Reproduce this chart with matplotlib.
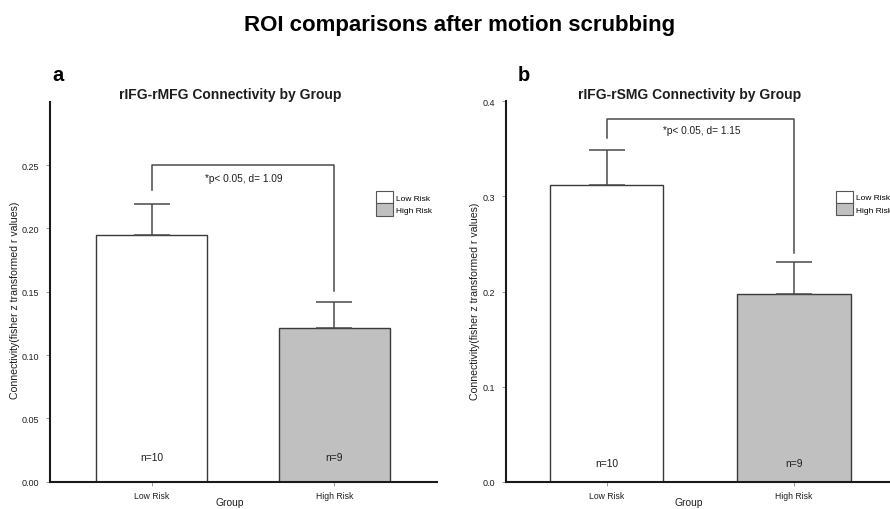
import matplotlib
matplotlib.use("Agg")
import matplotlib.pyplot as plt
from matplotlib.patches import Patch

plt.rcParams['font.family'] = ['Liberation Sans', 'DejaVu Sans']

# ---- data ----
groups = ["Low Risk", "High Risk"]
n_labels = ["n=10", "n=9"]
legend_labels = ["Low Risk", "High Risk"]

mfg_means = [0.1945, 0.1213]
mfg_sem = [0.025, 0.0207]
mfg_bracket = [0.2305, 0.25, 0.25, 0.1504]
mfg_stat = "*p< 0.05, d= 1.09"
mfg_yticks = [0.00, 0.05, 0.10, 0.15, 0.20, 0.25]
mfg_yticklabels = ["0.00", "0.05", "0.10", "0.15", "0.20", "0.25"]

smg_means = [0.3123, 0.1974]
smg_sem = [0.0365, 0.0336]
smg_bracket = [0.361, 0.381, 0.381, 0.2408]
smg_stat = "*p< 0.05, d= 1.15"
smg_yticks = [0.0, 0.1, 0.2, 0.3, 0.4]
smg_yticklabels = ["0.0", "0.1", "0.2", "0.3", "0.4"]

bar_colors = ["#ffffff", "#c0c0c0"]
edge = "#3a3a3a"
ink = "#1e1e1e"

W, H = 890, 510
fig = plt.figure(figsize=(W / 100, H / 100), dpi=100)
fig.patch.set_facecolor("white")


def px_axes(left, right, top, bottom):
    return fig.add_axes([left / W, 1 - bottom / H, (right - left) / W, (bottom - top) / H])


def ftext(x, y, s, **kw):
    return fig.text(x / W, 1 - y / H, s, **kw)


def panel(ax, means, sem, bracket, stat, stat_y, n_y, ylim, yticks, yticklabels,
          xlim, leg_pos):
    x = [0, 1]
    ax.bar(x, means, width=0.605, color=bar_colors, edgecolor=edge,
           linewidth=1.0, zorder=2)
    ax.errorbar(x, means, yerr=[[0, 0], sem], fmt="none", ecolor="#4a4a4a",
                elinewidth=1.1, capsize=13, capthick=1.1, zorder=3)
    ax.plot([0, 0, 1, 1], bracket, color="#4a4a4a", lw=1.1, zorder=3)
    ax.text(0.505, stat_y, stat, ha="center", va="center", fontsize=7.3,
            color=ink)
    for xi, lab in zip(x, n_labels):
        ax.text(xi, n_y, lab, ha="center", va="center", fontsize=7.4, color=ink)
    ax.set_xlim(*xlim)
    ax.set_ylim(*ylim)
    ax.set_xticks(x)
    ax.set_xticklabels(groups, fontsize=6.2)
    ax.set_yticks(yticks)
    ax.set_yticklabels(yticklabels, fontsize=6.5)
    ax.tick_params(axis="both", direction="out", length=3, width=0.6,
                   color="#888888", labelcolor=ink)
    ax.tick_params(axis="y", pad=5)
    ax.tick_params(axis="x", pad=3.5)
    for s in ["top", "right"]:
        ax.spines[s].set_visible(False)
    for s in ["left", "bottom"]:
        ax.spines[s].set_linewidth(1.5)
        ax.spines[s].set_color("#1a1a1a")
        ax.spines[s].set_zorder(4)
    handles = [Patch(facecolor=c, edgecolor="#555555", linewidth=0.8)
               for c in bar_colors]
    ax.legend(handles, legend_labels, loc="upper left", bbox_to_anchor=leg_pos,
              frameon=False, fontsize=6.0, handlelength=2.0, handleheight=1.86,
              labelspacing=0.0, handletextpad=0.4, borderpad=0,
              borderaxespad=0)


ylabel = "Connectivity(fisher z transformed r values)"

# panel a
ax_a = px_axes(50, 436.7, 102.7, 482.7)
panel(ax_a, mfg_means, mfg_sem, mfg_bracket, mfg_stat, 0.2397, 0.0192, (0, 0.30),
      mfg_yticks, mfg_yticklabels, (-0.557, 1.56), (0.843, 0.764))
ftext(230, 99.5, "rIFG-rMFG Connectivity by Group", ha="center", va="baseline",
      fontsize=10, fontweight="bold", color=ink)
ftext(52, 80.7, "a", ha="left", va="baseline", fontsize=14.5, fontweight="bold")
ftext(15, 300, ylabel, rotation=90, ha="center", va="center", fontsize=7.6,
      color=ink)
ftext(230, 506, "Group", ha="center", va="baseline", fontsize=7.4, color=ink)

# panel b
ax_b = px_axes(506, 899, 102.3, 482.7)
panel(ax_b, smg_means, smg_sem, smg_bracket, smg_stat, 0.370, 0.0193, (0, 0.40),
      smg_yticks, smg_yticklabels, (-0.537, 1.56), (0.840, 0.765))
ftext(690, 99.5, "rIFG-rSMG Connectivity by Group", ha="center", va="baseline",
      fontsize=10, fontweight="bold", color=ink)
ftext(518, 80.7, "b", ha="left", va="baseline", fontsize=14.5, fontweight="bold")
ftext(475, 301, ylabel, rotation=90, ha="center", va="center", fontsize=7.6,
      color=ink)
ftext(689, 506, "Group", ha="center", va="baseline", fontsize=7.4, color=ink)

ftext(460, 31, "ROI comparisons after motion scrubbing", ha="center",
      va="baseline", fontsize=16, fontweight="bold")

fig.savefig("out.png", dpi=100, facecolor="white")
